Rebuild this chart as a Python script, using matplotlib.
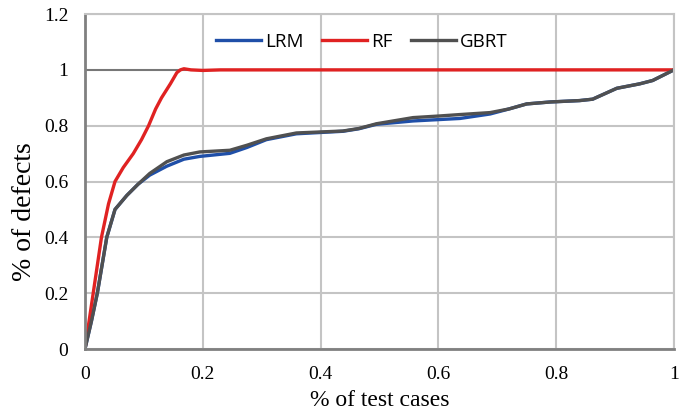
import matplotlib.pyplot as plt

# % of test cases vs % of defects
rf_x = [0, 0.007, 0.014, 0.028, 0.04, 0.051, 0.065, 0.082, 0.096, 0.108, 0.12, 0.13, 0.145, 0.156, 0.162, 0.168, 0.18, 0.2, 0.23, 0.4, 0.6, 0.8, 1.0]
rf_y = [0, 0.10, 0.20, 0.40, 0.52, 0.60, 0.65, 0.70, 0.75, 0.80, 0.86, 0.90, 0.95, 0.99, 1.0, 1.004, 1.0, 0.998, 1.0, 1.0, 1.0, 1.0, 1.0]

lrm_x = [0, 0.011, 0.021, 0.037, 0.051, 0.071, 0.09, 0.11, 0.139, 0.168, 0.195, 0.246, 0.275, 0.308, 0.359, 0.438, 0.465, 0.495, 0.557, 0.637, 0.688, 0.72, 0.75, 0.79, 0.84, 0.862, 0.903, 0.942, 0.964, 1.0]
lrm_y = [0, 0.10, 0.20, 0.40, 0.50, 0.55, 0.59, 0.623, 0.655, 0.68, 0.69, 0.701, 0.722, 0.75, 0.771, 0.78, 0.789, 0.805, 0.817, 0.826, 0.842, 0.86, 0.878, 0.885, 0.89, 0.895, 0.934, 0.95, 0.962, 1.0]

gbrt_x = [0, 0.011, 0.021, 0.037, 0.051, 0.071, 0.09, 0.11, 0.139, 0.168, 0.195, 0.246, 0.275, 0.308, 0.359, 0.438, 0.465, 0.495, 0.557, 0.603, 0.637, 0.688, 0.72, 0.75, 0.79, 0.84, 0.862, 0.903, 0.942, 0.964, 1.0]
gbrt_y = [0, 0.10, 0.20, 0.40, 0.50, 0.55, 0.59, 0.629, 0.671, 0.695, 0.706, 0.712, 0.73, 0.753, 0.774, 0.781, 0.79, 0.807, 0.829, 0.835, 0.84, 0.847, 0.86, 0.878, 0.885, 0.89, 0.895, 0.934, 0.95, 0.962, 1.0]

x_ticks = [0, 0.2, 0.4, 0.6, 0.8, 1]
x_labels = ["0", "0.2", "0.4", "0.6", "0.8", "1"]
y_ticks = [0, 0.2, 0.4, 0.6, 0.8, 1, 1.2]
y_labels = ["0", "0.2", "0.4", "0.6", "0.8", "1", "1.2"]

fig = plt.figure(figsize=(6.88, 4.12), dpi=100)
ax = fig.add_axes([0.1235, 0.1529, 0.856, 0.813])

ax.plot(lrm_x, lrm_y, color="#1f4fa8", lw=2.4, label="LRM", solid_joinstyle="round")
ax.plot(rf_x, rf_y, color="#e02222", lw=2.4, label="RF", solid_joinstyle="round")
ax.plot(gbrt_x, gbrt_y, color="#505050", lw=2.4, label="GBRT", solid_joinstyle="round")

ax.set_xlim(0, 1)
ax.set_ylim(0, 1.2)
ax.set_xticks(x_ticks)
ax.set_xticklabels(x_labels, family="Liberation Serif", fontsize=14)
ax.set_yticks(y_ticks)
ax.set_yticklabels(y_labels, family="Liberation Serif", fontsize=14)
ax.tick_params(length=0, pad=12)

ax.grid(True, color="#c4c4c4", lw=1.5)
ax.get_ygridlines()[5].set_color("#777777")
ax.set_axisbelow(True)
for s in ["top", "right"]:
    ax.spines[s].set_color("#c4c4c4")
    ax.spines[s].set_linewidth(1.5)
for s in ["left", "bottom"]:
    ax.spines[s].set_color("#808080")
    ax.spines[s].set_linewidth(2)

ax.set_xlabel("% of test cases", family="Liberation Serif", fontsize=17, labelpad=5)
ax.set_ylabel("% of defects", family="Liberation Serif", fontsize=20)
ax.yaxis.set_label_coords(-0.082, 0.41)

ax.legend(loc="upper center", bbox_to_anchor=(0.47, 0.995), ncol=3, frameon=False,
          prop={"family": "Open Sans", "size": 13.5}, handlelength=2.4,
          handletextpad=0.2, columnspacing=1.0)

fig.savefig("out.png", dpi=100)
